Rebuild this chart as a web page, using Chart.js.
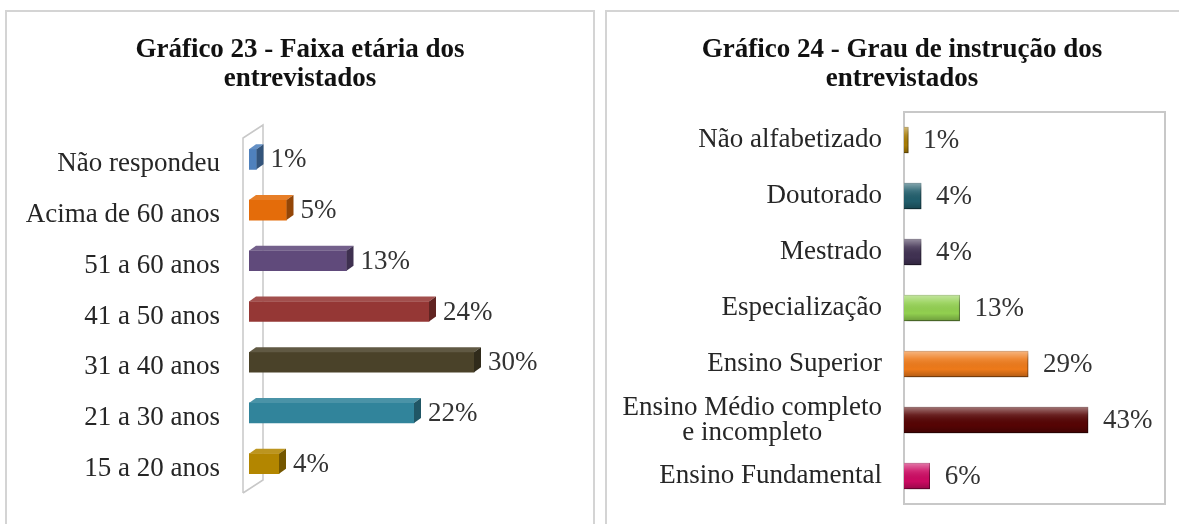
<!DOCTYPE html>
<html lang="pt">
<head>
<meta charset="utf-8">
<title>Gráficos 23 e 24</title>
<script src="https://cdn.jsdelivr.net/npm/chart.js@4.4.1/dist/chart.umd.min.js"></script>
<style>
  html, body { margin: 0; padding: 0; background: #fff; }
  body { width: 1179px; height: 524px; overflow: hidden; position: relative; }
  .panel { position: absolute; top: 10px; height: 540px; border: 2px solid #d4d4d4; border-bottom: none; }
  #panel-idade { left: 5px; width: 586px; }
  #panel-instrucao { left: 605px; width: 600px; border-right: none; }
  canvas { position: absolute; top: 0; left: 0; }
</style>
</head>
<body>
<div class="panel" id="panel-idade"><canvas id="chart-idade" width="586" height="512"></canvas></div>
<div class="panel" id="panel-instrucao"><canvas id="chart-instrucao" width="590" height="512"></canvas></div>
<script>
// Gráfico 23 - faixa etária
const idadeLabels = [
  "Não respondeu",
  "Acima de 60 anos",
  "51 a 60 anos",
  "41 a 50 anos",
  "31 a 40 anos",
  "21 a 30 anos",
  "15 a 20 anos",
];
const idadeValues = [1, 5, 13, 24, 30, 22, 4];

// Gráfico 24 - grau de instrução
const instrucaoLabels = [
  "Não alfabetizado",
  "Doutorado",
  "Mestrado",
  "Especialização",
  "Ensino Superior",
  ["Ensino Médio completo", "e incompleto"],
  "Ensino Fundamental",
];
const instrucaoValues = [1, 4, 4, 13, 29, 43, 6];

const idadeColors = ["#4f81bd", "#e46c0a", "#604a7b", "#953735", "#4a4229", "#31849b", "#b38600"];
const instrucaoColors = ["#a87c05", "#215e6c", "#403152", "#92d050", "#ee7a1a", "#560404", "#cc0a62"];

const SERIF = "'Liberation Serif', 'DejaVu Serif', serif";

function shade(hex, amt) {
  const n = parseInt(hex.slice(1), 16);
  let r = (n >> 16) & 255, g = (n >> 8) & 255, b = n & 255;
  const f = (c) => Math.max(0, Math.min(255, Math.round(amt >= 0 ? c + (255 - c) * amt : c * (1 + amt))));
  return `rgb(${f(r)}, ${f(g)}, ${f(b)})`;
}

// title drawn centred on the whole panel (the built-in one centres on the padded box)
function makeTitle(lines) {
  return {
    id: "panelTitle",
    afterDraw(chart) {
      const { ctx, width } = chart;
      ctx.save();
      ctx.font = `bold 27px ${SERIF}`;
      ctx.fillStyle = "#111111";
      ctx.textAlign = "center";
      ctx.textBaseline = "alphabetic";
      lines.forEach((line, i) => ctx.fillText(line, width / 2, 45 + i * 29));
      ctx.restore();
    },
  };
}

function makeCategoryLabels(gap, offsetY, lineHeight) {
  return {
    id: "categoryLabels",
    afterDraw(chart) {
      const { ctx, chartArea } = chart;
      const yScale = chart.scales.y;
      ctx.save();
      ctx.font = `27px ${SERIF}`;
      ctx.fillStyle = "#262626";
      ctx.textBaseline = "middle";
      ctx.textAlign = "center";
      chart.data.labels.forEach((label, i) => {
        const lines = Array.isArray(label) ? label : [label];
        const blockW = Math.max(...lines.map((l) => ctx.measureText(l).width));
        const cx = chartArea.left - gap - blockW / 2;
        const yc = yScale.getPixelForValue(i) + offsetY;
        lines.forEach((line, j) => {
          ctx.fillText(line, cx, yc + (j - (lines.length - 1) / 2) * lineHeight);
        });
      });
      ctx.restore();
    },
  };
}

function makeValueLabels(gap) {
  return {
    id: "valueLabels",
    afterDatasetsDraw(chart) {
      const { ctx } = chart;
      const values = chart.data.datasets[0].data;
      ctx.save();
      ctx.font = `27px ${SERIF}`;
      ctx.fillStyle = "#333333";
      ctx.textBaseline = "middle";
      ctx.textAlign = "left";
      chart.getDatasetMeta(0).data.forEach((bar, i) => {
        ctx.fillText(values[i] + "%", bar.x + gap, bar.y + 1);
      });
      ctx.restore();
    },
  };
}

// 3D look for chart 23: back wall plus top and side faces of each bar
const wall3d = {
  id: "wall3d",
  beforeDatasetsDraw(chart) {
    const { ctx, chartArea } = chart;
    const fx = chartArea.left - 6, bx = chartArea.left + 14;
    ctx.save();
    ctx.strokeStyle = "#c8c8c8";
    ctx.lineWidth = 1.5;
    ctx.beginPath();
    ctx.moveTo(fx, chartArea.bottom + 4);
    ctx.lineTo(fx, chartArea.top + 4);
    ctx.lineTo(bx, chartArea.top - 9);
    ctx.lineTo(bx, chartArea.bottom - 9);
    ctx.lineTo(fx, chartArea.bottom + 4);
    ctx.stroke();
    ctx.restore();
  },
  afterDatasetsDraw(chart) {
    const { ctx } = chart;
    const dx = 7, dy = 5;
    ctx.save();
    chart.getDatasetMeta(0).data.forEach((bar, i) => {
      const { x, y, base, height } = bar.getProps(["x", "y", "base", "height"], true);
      const top = y - height / 2, bottom = y + height / 2;
      ctx.fillStyle = shade(idadeColors[i], 0.12);
      ctx.beginPath();
      ctx.moveTo(base, top);
      ctx.lineTo(base + dx, top - dy);
      ctx.lineTo(x + dx, top - dy);
      ctx.lineTo(x, top);
      ctx.closePath();
      ctx.fill();
      ctx.fillStyle = shade(idadeColors[i], -0.35);
      ctx.beginPath();
      ctx.moveTo(x, top);
      ctx.lineTo(x + dx, top - dy);
      ctx.lineTo(x + dx, bottom - dy);
      ctx.lineTo(x, bottom);
      ctx.closePath();
      ctx.fill();
    });
    ctx.restore();
  },
};

// bevel + shadow for chart 24, and the plot-area frame
const bevel = {
  id: "bevel",
  beforeDatasetsDraw(chart) {
    const { ctx, chartArea } = chart;
    ctx.save();
    ctx.strokeStyle = "#c8c8c8";
    ctx.lineWidth = 2;
    ctx.strokeRect(chartArea.left, chartArea.top, chartArea.right - chartArea.left, chartArea.bottom - chartArea.top);
    ctx.restore();
    ctx.save();
    ctx.shadowColor = "rgba(0, 0, 0, 0.35)";
    ctx.shadowBlur = 4;
    ctx.shadowOffsetX = 2;
    ctx.shadowOffsetY = 3;
  },
  afterDatasetsDraw(chart) {
    const { ctx } = chart;
    ctx.restore();
    ctx.save();
    chart.getDatasetMeta(0).data.forEach((bar) => {
      const { x, y, base, height } = bar.getProps(["x", "y", "base", "height"], true);
      const top = y - height / 2;
      const g = ctx.createLinearGradient(0, top, 0, top + height);
      g.addColorStop(0, "rgba(255,255,255,0.45)");
      g.addColorStop(0.3, "rgba(255,255,255,0.12)");
      g.addColorStop(0.7, "rgba(0,0,0,0)");
      g.addColorStop(1, "rgba(0,0,0,0.25)");
      ctx.fillStyle = g;
      ctx.fillRect(base, top, x - base, height);
    });
    ctx.restore();
  },
};

function baseOptions(max, axisWidth, pad) {
  return {
    indexAxis: "y",
    responsive: false,
    animation: false,
    events: [],
    layout: { padding: pad },
    plugins: {
      legend: { display: false },
      tooltip: { enabled: false },
      title: { display: false },
    },
    scales: {
      x: { display: false, min: 0, max: max },
      y: {
        grid: { display: false },
        border: { display: false },
        ticks: { display: false },
        afterFit: (scale) => { scale.width = axisWidth; },
      },
    },
  };
}

new Chart(document.getElementById("chart-idade"), {
  type: "bar",
  data: {
    labels: idadeLabels,
    datasets: [{
      data: idadeValues,
      backgroundColor: idadeColors,
      barThickness: 20,
    }],
  },
  options: baseOptions(35, 242, { left: 0, right: 81.5, top: 122, bottom: 35 }),
  plugins: [
    wall3d,
    makeValueLabels(14),
    makeCategoryLabels(29, 5, 25),
    makeTitle(["Gráfico 23 - Faixa etária dos", "entrevistados"]),
  ],
});

new Chart(document.getElementById("chart-instrucao"), {
  type: "bar",
  data: {
    labels: instrucaoLabels,
    datasets: [{
      data: instrucaoValues,
      backgroundColor: instrucaoColors,
      borderColor: instrucaoColors.map((c) => shade(c, -0.25)),
      borderWidth: 1,
      barThickness: 26,
    }],
  },
  options: baseOptions(61, 297, { left: 0, right: 32, top: 100, bottom: 20 }),
  plugins: [
    bevel,
    makeValueLabels(15),
    makeCategoryLabels(22, 0, 25),
    makeTitle(["Gráfico 24 - Grau de instrução dos", "entrevistados"]),
  ],
});
</script>
</body>
</html>
